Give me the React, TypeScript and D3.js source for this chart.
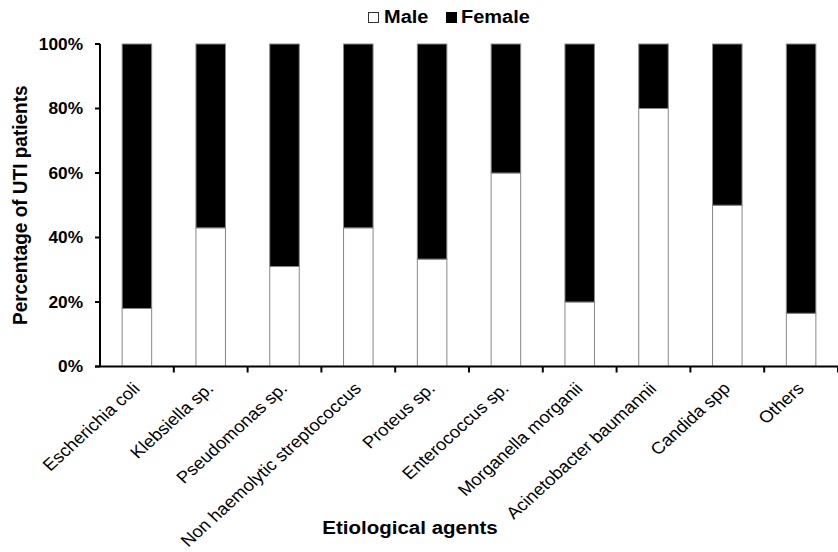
import React from "react";
import * as d3 from "d3";

const categories = [
  "Escherichia coli",
  "Klebsiella sp.",
  "Pseudomonas sp.",
  "Non haemolytic streptococcus",
  "Proteus sp.",
  "Enterococcus sp.",
  "Morganella morganii",
  "Acinetobacter baumannii",
  "Candida spp",
  "Others",
];
const malePct = [18, 43, 31, 43, 33.3, 60, 20, 80, 50, 16.5];
const femalePct = [82, 57, 69, 57, 66.7, 40, 80, 20, 50, 83.5];
const seriesKeys = ["Male", "Female"];
const seriesFill = ["#fff", "#000"];
const yTicks = [0, 20, 40, 60, 80, 100];

const W = 838;
const H = 552;
const left = 100;
const right = 838;
const top = 44;
const bottom = 366.5;
const SX = 1.08;

export default function App() {
  const x = d3.scaleBand<string>().domain(categories).range([left, right]).paddingInner(0.6).paddingOuter(0.3);
  const band = d3.scaleBand<string>().domain(categories).range([left, right]);
  const y = d3.scaleLinear().domain([0, 100]).range([bottom, top]);
  const rows = categories.map((c, i) => ({ cat: c, Male: malePct[i], Female: femalePct[i] }));
  const stacked = d3.stack<any>().keys(seriesKeys)(rows);
  const font = "'Liberation Sans', Arial, sans-serif";
  return (
    <svg width={W} height={H} style={{ position: "absolute", left: 0, top: 0, background: "#fff" }} fontFamily={font}>
      {/* legend */}
      <rect x={368.5} y={12.5} width={10} height={10} fill="#fff" stroke="#333" strokeWidth={1} />
      <text transform={`translate(384,23) scale(${SX},1)`} fontSize={18.5} fontWeight="bold">Male</text>
      <rect x={446} y={12} width={11} height={11} fill="#000" />
      <text transform={`translate(461,23) scale(${SX},1)`} fontSize={18.5} fontWeight="bold">Female</text>

      {/* bars */}
      {stacked.map((s, si) => (
        <g key={s.key}>
          {s.map((d: any) => (
            <rect key={d.data.cat} x={x(d.data.cat)} y={y(d[1])} width={x.bandwidth()} height={y(d[0]) - y(d[1])} fill={seriesFill[si]} stroke="#888" strokeWidth={1} />
          ))}
        </g>
      ))}

      {/* y axis */}
      <line x1={left} x2={left} y1={top} y2={bottom} stroke="#000" strokeWidth={2} />
      {yTicks.map((t) => (
        <g key={t}>
          <line x1={left - 5} x2={left} y1={y(t)} y2={y(t)} stroke="#000" strokeWidth={2} />
          <text transform={`translate(${left - 17},${y(t)}) scale(${SX},1)`} dy="0.35em" textAnchor="end" fontSize={16} fontWeight="bold">{t}%</text>
        </g>
      ))}

      {/* x axis */}
      <line x1={left - 5} x2={right} y1={bottom} y2={bottom} stroke="#000" strokeWidth={2} />
      {categories.map((c) => (
        <line key={c} x1={(band(c) as number) + band.bandwidth()} x2={(band(c) as number) + band.bandwidth()} y1={bottom} y2={bottom + 6} stroke="#000" strokeWidth={2} />
      ))}
      {categories.map((c) => {
        const cx = (x(c) as number) + x.bandwidth() / 2;
        return (
          <text key={c} transform={`translate(${cx + 4},${bottom + 23}) scale(1.1,1) rotate(-45)`} textAnchor="end" fontSize={16.8}>{c}</text>
        );
      })}

      {/* titles */}
      <text transform={`translate(410,534) scale(${SX},1)`} textAnchor="middle" fontSize={19} fontWeight="bold">Etiological agents</text>
      <text transform={`translate(27,${(top + bottom) / 2}) scale(${SX},1) rotate(-90)`} textAnchor="middle" fontSize={19} fontWeight="bold">Percentage of UTI patients</text>
    </svg>
  );
}
